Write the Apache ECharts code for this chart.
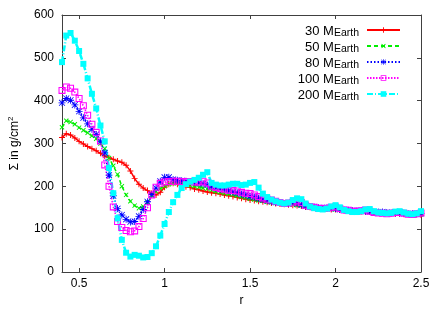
<!DOCTYPE html>
<html><head><meta charset="utf-8">
<script src="https://cdn.jsdelivr.net/npm/echarts@6/dist/echarts.min.js"></script>
<style>html,body{margin:0;padding:0;background:#fff}#c{width:442px;height:309px}</style>
</head><body><div id="c"></div>
<script>
// radius grid (r)
const R = [
0.400,0.425,0.450,0.475,0.500,0.525,0.550,0.575,0.600,0.625,
0.650,0.675,0.700,0.725,0.750,0.775,0.800,0.825,0.850,0.875,
0.900,0.925,0.950,0.975,1.000,1.025,1.050,1.075,1.100,1.125,
1.150,1.175,1.200,1.225,1.250,1.275,1.300,1.325,1.350,1.375,
1.400,1.425,1.450,1.475,1.500,1.525,1.550,1.575,1.600,1.625,
1.650,1.675,1.700,1.725,1.750,1.775,1.800,1.825,1.850,1.875,
1.900,1.925,1.950,1.975,2.000,2.025,2.050,2.075,2.100,2.125,
2.150,2.175,2.200,2.225,2.250,2.275,2.300,2.325,2.350,2.375,
2.400,2.425,2.450,2.475,2.500];

const S30 = [
314,323,320,313,305,299,293,288,283,277,
271,267,263,259,256,249,236,218,205,196,
190,184,180,186,198,205,207,205,202,199,
197,194,192,189,187,185,184,182,180,178,
176,174,172,170,168,167,165,164,163,161,
160,159,158,157,156,155,154,152,151,150,
149,148,147,146,146,145,144,143,143,142,
141,141,140,139,139,138,137,137,136,136,
135,135,134,134,133];

const S50 = [
338,353,350,345,337,331,325,318,311,300,
288,266,248,228,200,180,165,155,149,153,
163,178,188,195,200,205,207,207,206,204,
202,200,198,196,194,191,188,186,184,182,
180,178,175,173,171,169,167,166,164,162,
161,160,159,158,157,156,155,153,152,151,
150,149,148,147,146,146,145,144,143,142,
142,141,140,140,139,138,138,137,137,136,
136,135,135,135,134];

const S80 = [
395,405,401,390,375,360,346,333,321,305,
278,226,178,148,133,123,117,118,130,146,
164,181,196,212,221,221,216,214,213,212,
211,209,208,206,203,199,196,194,193,190,
187,185,182,180,177,175,172,169,167,165,
163,162,160,160,162,160,157,154,153,152,
150,149,150,150,148,146,145,144,143,143,
143,142,141,140,140,140,139,138,138,138,
137,136,136,136,137];

const S100 = [
424,432,429,420,405,388,366,345,326,306,
250,200,152,118,104,97,94,96,106,125,
150,180,198,207,210,211,212,212,211,211,
211,210,210,212,208,200,197,195,193,191,
190,189,186,184,183,180,176,173,170,168,
165,162,160,161,163,166,162,156,153,151,
149,148,149,151,152,148,145,144,142,142,
143,145,142,139,138,137,136,137,139,139,
137,135,134,136,138];

const S200 = [
490,552,558,540,516,486,452,416,382,342,
305,243,184,125,75,45,36,40,38,34,
35,44,60,85,112,140,163,180,196,205,
211,215,220,227,233,208,204,202,202,204,
206,206,203,204,208,210,197,183,175,169,
165,162,160,162,168,172,170,160,153,149,
147,146,148,153,156,151,145,142,140,140,
142,146,147,142,139,138,137,138,141,142,
139,136,135,137,142];

const NAMES = ['30 M_Earth','50 M_Earth','80 M_Earth','100 M_Earth','200 M_Earth'];
const X_TICKS = [0.5, 1, 1.5, 2, 2.5];

const FONT = '"Liberation Sans", Arial, Helvetica, sans-serif';
const PLUS = 'path://M4.2,0H5.8V4.2H10V5.8H5.8V10H4.2V5.8H0V4.2H4.2Z';
const STAR = 'path://M4.4,0H5.6V4.4H10V5.6H5.6V10H4.4V5.6H0V4.4H4.4Z M1.2,0.4L5,4.2L8.8,0.4L9.6,1.2L5.8,5L9.6,8.8L8.8,9.6L5,5.8L1.2,9.6L0.4,8.8L4.2,5L0.4,1.2Z';
const OSQ = 'path://M0,0H10V10H0Z M1.5,1.5V8.5H8.5V1.5Z';

function mk(name, vals, color, symbol, size, ltype, lw, rot) {
  return {
    name, type: 'line',
    data: R.map((r, i) => [r, vals[i]]),
    symbol, symbolSize: size, symbolRotate: rot || 0,
    showAllSymbol: true, clip: true,
    lineStyle: { color, width: lw, type: ltype },
    itemStyle: { color, borderWidth: 0 },
    emphasis: { disabled: true },
    animation: false
  };
}

const chart = echarts.init(document.getElementById('c'), null, { renderer: 'canvas' });
const axisCol = '#404040';
chart.setOption({
  animation: false,
  backgroundColor: '#fff',
  grid: { left: 62, right: 21, top: 15, bottom: 37, containLabel: false, outerBoundsMode: 'none' },
  legend: {
    orient: 'vertical', right: 36, top: 16, align: 'right',
    itemWidth: 33, itemHeight: 7, itemGap: -2, selectedMode: false,
    data: NAMES,
    formatter: n => n.replace(/^(.*M)_(Earth)$/, '{a|$1}{b|$2}'),
    textStyle: {
      fontFamily: FONT, color: '#000',
      rich: {
        a: { fontSize: 13, lineHeight: 11, verticalAlign: 'top', fontFamily: FONT, color: '#000' },
        b: { fontSize: 10.5, lineHeight: 9, padding: [7, 3, 0, 0], fontFamily: FONT, color: '#000' }
      }
    }
  },
  xAxis: [{
    type: 'value', min: 0.4, max: 2.5, position: 'bottom',
    axisLine: { show: true, onZero: false, lineStyle: { color: axisCol, width: 1 } },
    axisTick: { show: true, inside: true, length: 4, customValues: X_TICKS, lineStyle: { color: axisCol } },
    axisLabel: { customValues: X_TICKS, color: '#000', fontSize: 12, fontFamily: FONT, margin: 6 },
    splitLine: { show: false },
    name: 'r', nameLocation: 'middle', nameGap: 22,
    nameTextStyle: { color: '#000', fontSize: 12, fontFamily: FONT }
  }, {
    type: 'value', min: 0.4, max: 2.5, position: 'top',
    axisLine: { show: true, onZero: false, lineStyle: { color: axisCol, width: 1 } },
    axisTick: { show: true, inside: true, length: 4, customValues: X_TICKS, lineStyle: { color: axisCol } },
    axisLabel: { show: false },
    splitLine: { show: false }
  }],
  yAxis: [{
    type: 'value', min: 0, max: 600, interval: 100, position: 'left',
    axisLine: { show: true, onZero: false, lineStyle: { color: axisCol, width: 1 } },
    axisTick: { show: true, inside: true, length: 4, lineStyle: { color: axisCol } },
    axisLabel: { color: '#000', fontSize: 12, fontFamily: FONT, margin: 8 },
    splitLine: { show: false },
    name: '{a|Σ in g/cm}{s|2}', nameLocation: 'middle', nameGap: 43, nameRotate: 90,
    nameTextStyle: {
      color: '#000', fontFamily: FONT,
      rich: {
        a: { fontSize: 12, lineHeight: 12, padding: [4, 0, 0, 0], fontFamily: FONT, color: '#000' },
        s: { fontSize: 8, lineHeight: 8, verticalAlign: 'top', fontFamily: FONT, color: '#000' }
      }
    }
  }, {
    type: 'value', min: 0, max: 600, interval: 100, position: 'right',
    axisLine: { show: true, onZero: false, lineStyle: { color: axisCol, width: 1 } },
    axisTick: { show: true, inside: true, length: 4, lineStyle: { color: axisCol } },
    axisLabel: { show: false },
    splitLine: { show: false }
  }],
  series: [
    mk(NAMES[0], S30, '#ff0000', PLUS, 6, 'solid', 1.5),
    mk(NAMES[1], S50, '#00ee00', PLUS, 6, [4, 3], 1.5, 45),
    mk(NAMES[2], S80, '#0000ff', STAR, 7, [1.5, 2], 1.5),
    mk(NAMES[3], S100, '#ff00ff', OSQ, 7, [1.5, 1.5], 1.5),
    mk(NAMES[4], S200, '#00ffff', 'rect', 6, [6, 2, 1, 2], 2.5)
  ]
});
</script></body></html>
